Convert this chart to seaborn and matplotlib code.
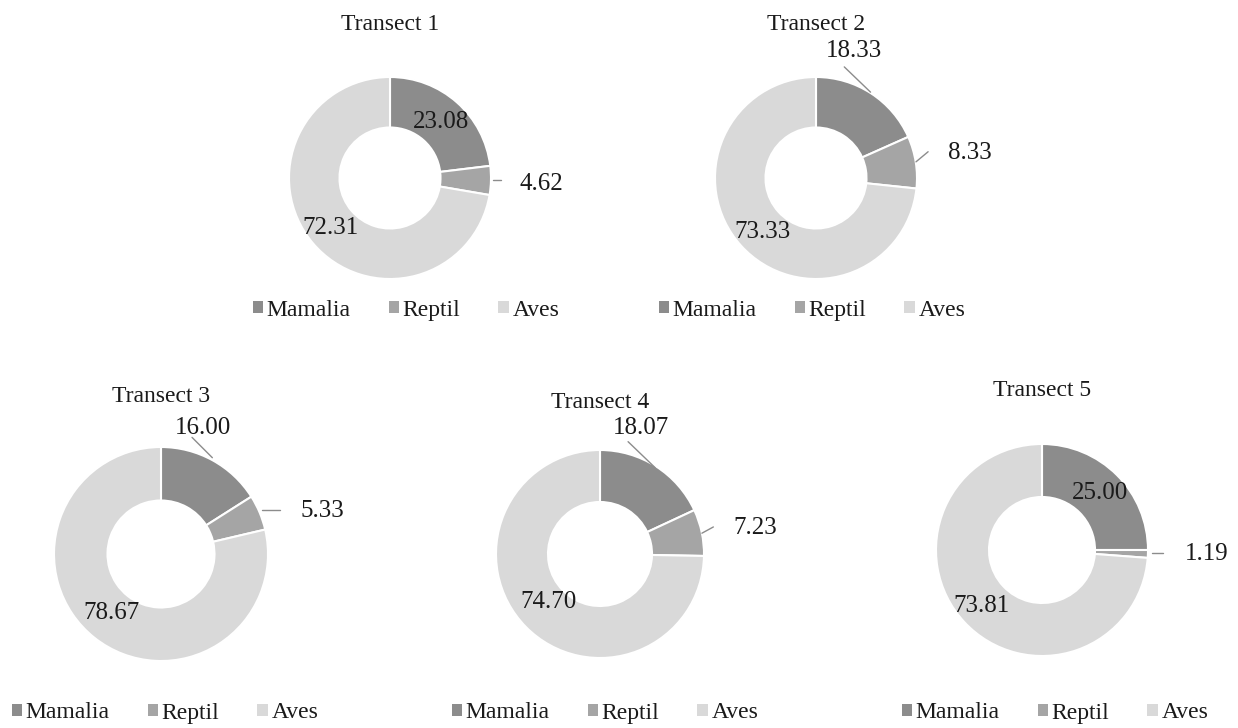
import matplotlib.pyplot as plt
import seaborn as sns
from matplotlib.patches import Patch

categories = ['Mamalia', 'Reptil', 'Aves']
transects = ['Transect 1', 'Transect 2', 'Transect 3', 'Transect 4', 'Transect 5']
mamalia = [23.08, 18.33, 16.00, 18.07, 25.00]
reptil = [4.62, 8.33, 5.33, 7.23, 1.19]
aves = [72.31, 73.33, 78.67, 74.70, 73.81]

colors = ['#8c8c8c', '#a5a5a5', '#d9d9d9']

sns.set_theme(style='white')
plt.rcParams['font.family'] = ['Liberation Serif', 'DejaVu Serif']

W, H = 1238, 728
fig = plt.figure(figsize=(W / 100, H / 100), dpi=100)

# pixel layout: donut centre x, y, radius, title y, legend centre x, legend y
layout = [
    (390, 178, 101, 24, 406, 310),
    (816, 178, 101, 24, 812, 310),
    (161, 554, 107, 397, 165, 713),
    (600, 554, 104, 402, 605, 713),
    (1042, 550, 106, 390, 1055, 713),
]

# label spots in radius units: (x, y, ha, leader line or None)
label_spots = [
    [(0.50, 0.55, 'center', None),
     (1.28, -0.06, 'left', ((1.02, -0.02), (1.10, -0.02))),
     (-0.59, -0.50, 'center', None)],
    [(0.38, 1.26, 'center', ((0.54, 0.85), (0.28, 1.10))),
     (1.31, 0.25, 'left', ((0.99, 0.16), (1.11, 0.26))),
     (-0.53, -0.53, 'center', None)],
    [(0.39, 1.18, 'center', ((0.48, 0.90), (0.29, 1.09))),
     (1.30, 0.40, 'left', ((0.94, 0.41), (1.11, 0.41))),
     (-0.46, -0.55, 'center', None)],
    [(0.39, 1.21, 'center', ((0.53, 0.83), (0.27, 1.08))),
     (1.28, 0.25, 'left', ((0.98, 0.20), (1.09, 0.26))),
     (-0.50, -0.46, 'center', None)],
    [(0.55, 0.54, 'center', None),
     (1.35, -0.04, 'left', ((1.04, -0.03), (1.14, -0.03))),
     (-0.57, -0.53, 'center', None)],
]

for i, name in enumerate(transects):
    cx, cy, r, ty, lx, ly = layout[i]
    ax = fig.add_axes([(cx - r) / W, 1 - (cy + r) / H, 2 * r / W, 2 * r / H])
    vals = [mamalia[i], reptil[i], aves[i]]
    ax.pie(vals, colors=colors, startangle=90, counterclock=False, radius=1,
           wedgeprops=dict(width=0.5, edgecolor='white', linewidth=1.5))
    ax.set_xlim(-1, 1)
    ax.set_ylim(-1, 1)
    ax.set_aspect('equal')
    ax.axis('off')

    for v, (x, y, ha, line) in zip(vals, label_spots[i]):
        ax.text(x, y, f'{v:.2f}', ha=ha, va='center', fontsize=18,
                color='#1a1a1a', clip_on=False)
        if line:
            (x0, y0), (x1, y1) = line
            ax.plot([x0, x1], [y0, y1], color='#8c8c8c', lw=1, clip_on=False)

    fig.text(cx / W, 1 - ty / H, name, ha='center', va='center',
             fontsize=17, color='#1a1a1a')

    handles = [Patch(facecolor=c, edgecolor='none', label=lab)
               for c, lab in zip(colors, categories)]
    fig.legend(handles=handles, loc='center', ncol=3, frameon=False,
               bbox_to_anchor=(lx / W, 1 - ly / H), fontsize=17,
               handlelength=0.45, handleheight=0.45, handletextpad=0.15,
               columnspacing=1.6, labelcolor='#1a1a1a')

fig.savefig('out.png', dpi=100, facecolor='white')
